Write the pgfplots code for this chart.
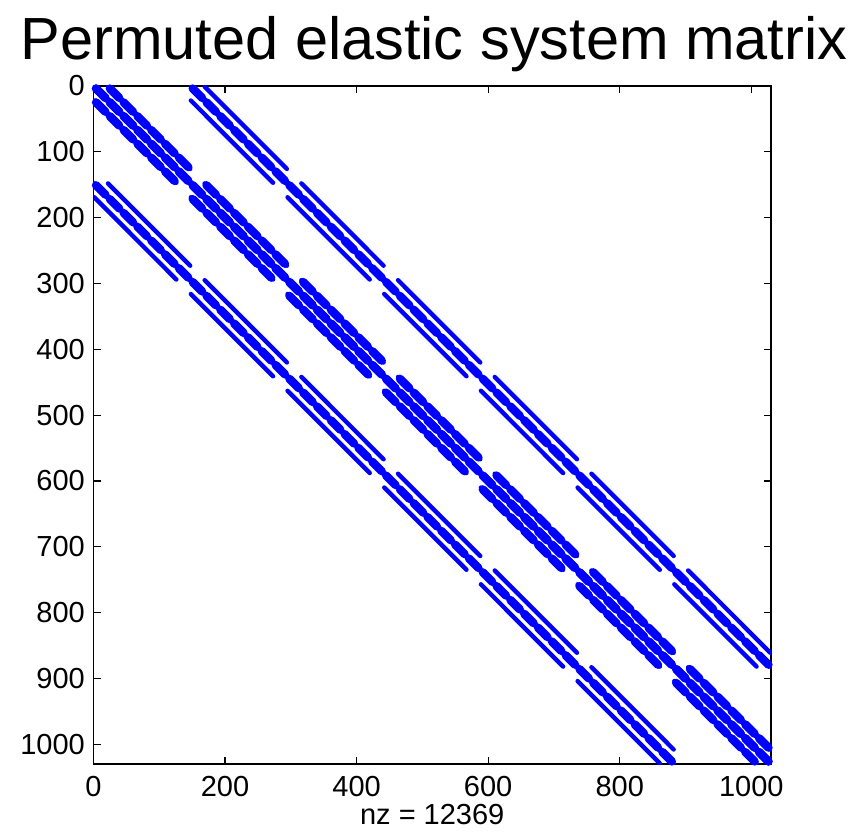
\documentclass[border=0pt]{standalone}
\usepackage{fontspec}
\setmainfont{Liberation Sans}
\usepackage{pgfplots}
\usepackage{pgfplotstable}
\pgfplotsset{compat=1.18}
\definecolor{spyblue}{rgb}{0,0,1}

% one 21-row chunk of nonzeros running along a diagonal (y axis reversed)
\pgfdeclareplotmark{chunk}{%
  \pgfsetroundcap
  \pgfpathmoveto{\pgfqpoint{-4.7pt}{4.7pt}}%
  \pgfpathlineto{\pgfqpoint{4.7pt}{-4.7pt}}%
  \pgfusepathqstroke}

% thin diagonals (upper triangle and main diagonal; the matrix is symmetric)
\pgfplotstableread{
c r
1 1
1029 1029
nan nan
22 1
147 126
nan nan
169 148
294 273
nan nan
316 295
441 420
nan nan
463 442
588 567
nan nan
610 589
735 714
nan nan
757 736
882 861
nan nan
904 883
1029 1008
nan nan
148 1
1029 882
nan nan
169 1
294 126
nan nan
316 148
441 273
nan nan
463 295
588 420
nan nan
610 442
735 567
nan nan
757 589
882 714
nan nan
904 736
1029 861
nan nan
148 22
273 147
nan nan
295 169
420 294
nan nan
442 316
567 441
nan nan
589 463
714 588
nan nan
736 610
861 735
nan nan
883 757
1008 882
}\thinlines

% centres of the wide 21-row chunks (upper triangle and main diagonal)
\pgfplotstableread{
c r
11 11
32 32
53 53
74 74
95 95
116 116
137 137
158 158
179 179
200 200
221 221
242 242
263 263
284 284
305 305
326 326
347 347
368 368
389 389
410 410
431 431
452 452
473 473
494 494
515 515
536 536
557 557
578 578
599 599
620 620
641 641
662 662
683 683
704 704
725 725
746 746
767 767
788 788
809 809
830 830
851 851
872 872
893 893
914 914
935 935
956 956
977 977
998 998
1019 1019
158 11
179 32
200 53
221 74
242 95
263 116
284 137
305 158
326 179
347 200
368 221
389 242
410 263
431 284
452 305
473 326
494 347
515 368
536 389
557 410
578 431
599 452
620 473
641 494
662 515
683 536
704 557
725 578
746 599
767 620
788 641
809 662
830 683
851 704
872 725
893 746
914 767
935 788
956 809
977 830
998 851
1019 872
32 11
53 32
74 53
95 74
116 95
137 116
179 158
200 179
221 200
242 221
263 242
284 263
326 305
347 326
368 347
389 368
410 389
431 410
473 452
494 473
515 494
536 515
557 536
578 557
620 599
641 620
662 641
683 662
704 683
725 704
767 746
788 767
809 788
830 809
851 830
872 851
914 893
935 914
956 935
977 956
998 977
1019 998
}\chunks

\begin{document}
\begin{tikzpicture}
\path[use as bounding box] (0pt,0pt) rectangle (854pt,837pt);
\begin{axis}[
  at={(93.5pt,73pt)}, anchor=south west,
  scale only axis, width=677.5pt, height=678pt,
  xmin=0, xmax=1030, ymin=0, ymax=1030,
  y dir=reverse,
  xtick={0,200,...,1000}, ytick={0,100,...,1000},
  tick align=inside, major tick length=7pt,
  axis line style={line width=1.4pt},
  every tick/.style={black, line width=1.2pt},
  /pgf/number format/assume math mode=true,
  /pgf/number format/1000 sep={},
  tick label style={font=\fontsize{29}{29}\selectfont, inner sep=0pt},
  xticklabel style={anchor=north, yshift=-12pt},
  yticklabel style={anchor=east, xshift=-8.5pt},
  unbounded coords=jump,
]
\addplot[spyblue, line width=4.4pt, line cap=round] table[x=c, y=r] {\thinlines};
\addplot[spyblue, line width=4.4pt, line cap=round] table[x=r, y=c] {\thinlines};
\addplot[only marks, mark=chunk, mark options={spyblue, line width=8.4pt}] table[x=c, y=r] {\chunks};
\addplot[only marks, mark=chunk, mark options={spyblue, line width=8.4pt}] table[x=r, y=c] {\chunks};
\end{axis}
\node[anchor=base, font=\fontsize{59.5}{59.5}\selectfont, inner sep=0pt] at (434pt,777pt) {Permuted elastic system matrix};
\node[anchor=base, font=\fontsize{29}{29}\selectfont, inner sep=0pt] at (432.25pt,12pt) {nz = 12369};
\end{tikzpicture}
\end{document}
